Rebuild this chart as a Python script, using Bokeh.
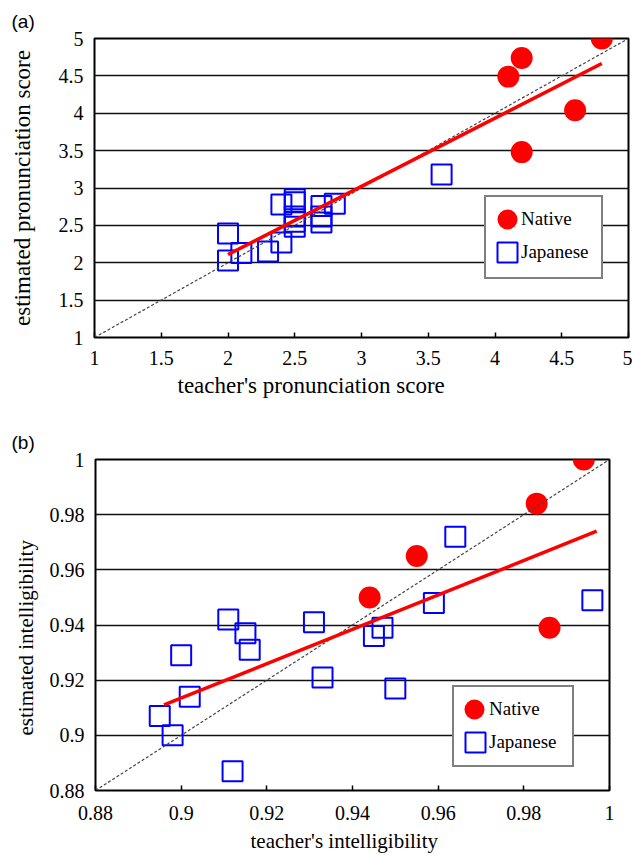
from bokeh.plotting import figure
from bokeh.models import (FixedTicker, Legend, LegendItem, Title,
                          CustomJSTickFormatter, Range1d)
from bokeh.embed import file_html
from bokeh.resources import INLINE

# ---------------- data: panel (a) pronunciation score ----------------
a_native_x = [4.8, 4.2, 4.1, 4.6, 4.2]
a_native_y = [5.0, 4.74, 4.49, 4.04, 3.48]
a_jp_x = [2.0, 2.0, 2.1, 2.3, 2.4, 2.4, 2.5, 2.5, 2.5, 2.5, 2.5, 2.7, 2.7, 2.7, 2.8, 3.6]
a_jp_y = [2.39, 2.03, 2.13, 2.15, 2.27, 2.78, 2.85, 2.81, 2.62, 2.55, 2.48, 2.76, 2.62, 2.54, 2.79, 3.18]
a_fit_x = [2.0, 4.8]
a_fit_y = [2.11, 4.665]
a_diag = [1.0, 5.0]
a_ticks = [1, 1.5, 2, 2.5, 3, 3.5, 4, 4.5, 5]
a_tick_labels = ["1", "1.5", "2", "2.5", "3", "3.5", "4", "4.5", "5"]

# ---------------- data: panel (b) intelligibility ----------------
b_native_x = [0.994, 0.983, 0.955, 0.944, 0.986]
b_native_y = [1.000, 0.984, 0.965, 0.950, 0.939]
b_jp_x = [0.964, 0.959, 0.996, 0.931, 0.911, 0.915, 0.916, 0.900, 0.933, 0.947, 0.945, 0.950, 0.902, 0.895, 0.898, 0.912]
b_jp_y = [0.972, 0.948, 0.949, 0.941, 0.942, 0.937, 0.931, 0.929, 0.921, 0.939, 0.936, 0.917, 0.914, 0.907, 0.900, 0.887]
b_fit_x = [0.896, 0.997]
b_fit_y = [0.911, 0.974]
b_diag = [0.88, 1.0]
b_ticks = [0.88, 0.9, 0.92, 0.94, 0.96, 0.98, 1.0]
b_tick_labels = ["0.88", "0.9", "0.92", "0.94", "0.96", "0.98", "1"]

SERIF = "Liberation Serif, Times New Roman, Times, serif"
SANS = "Liberation Sans, Arial, Helvetica, sans-serif"


def make_panel(cfg, ticks, labels, native, jp, fit, diag, tag, ytitle, xtitle):
    bl, br, bt, bb = cfg["borders"]
    p = figure(width=cfg["width"], height=cfg["height"], output_backend="svg",
               toolbar_location=None,
               x_range=Range1d(ticks[0], ticks[-1]), y_range=Range1d(ticks[0], ticks[-1]),
               min_border_left=bl, min_border_right=br, min_border_top=bt, min_border_bottom=bb)
    p.background_fill_color = "white"
    p.border_fill_color = "white"
    p.outline_line_color = "black"
    p.outline_line_width = 2

    fmt = CustomJSTickFormatter(args=dict(vals=ticks, labels=labels), code="""
        for (let i = 0; i < vals.length; i++) {
            if (Math.abs(vals[i] - tick) < 1e-9) { return labels[i]; }
        }
        return "";
    """)
    for ax in (p.xaxis[0], p.yaxis[0]):
        ax.ticker = FixedTicker(ticks=ticks)
        ax.formatter = fmt
        ax.axis_line_color = None
        ax.minor_tick_line_color = None
        ax.major_label_text_font = SERIF
        ax.major_label_text_font_size = "20px"
        ax.major_label_text_font_style = "normal"
        ax.major_label_text_color = "black"
    p.xaxis.major_tick_in = 5
    p.xaxis.major_tick_out = 0
    p.xaxis.major_tick_line_color = "black"
    p.xaxis.major_tick_line_width = 1.5
    p.xaxis.major_label_standoff = cfg["xtick_standoff"]
    p.yaxis.major_tick_in = 0
    p.yaxis.major_tick_out = 0
    p.yaxis.major_tick_line_color = None
    p.yaxis.major_label_standoff = 11

    if cfg["ytitle_mode"] == "axis":
        p.yaxis.axis_label = ytitle
        p.yaxis.axis_label_text_font = SERIF
        p.yaxis.axis_label_text_font_size = cfg["title_size"]
        p.yaxis.axis_label_text_font_style = "normal"
        p.yaxis.axis_label_text_color = "black"
        p.yaxis.axis_label_standoff = cfg["ytitle_standoff"]
    else:
        p.add_layout(Title(text=ytitle, align="left", offset=cfg["ytitle_offset"],
                           standoff=cfg["ytitle_standoff"],
                           text_font=SERIF, text_font_size=cfg["title_size"],
                           text_font_style="normal", text_color="black"), "left")

    p.xgrid.visible = False
    p.ygrid.grid_line_color = "#111111"
    p.ygrid.grid_line_width = 1.4

    rj = p.scatter(jp[0], jp[1], marker="square", size=20, fill_color=None,
                   line_color="#0000FF", line_width=2)
    rn = p.scatter(native[0], native[1], marker="circle", size=22, fill_color="#FF0000",
                   line_color=None)
    p.line(diag, diag, line_color="#444444", line_width=1.2, line_dash="3 2")
    p.line(fit[0], fit[1], line_color="#FF0000", line_width=3.5)

    # legend: a bordered box, then the two symbols, then the two labels
    blank = p.scatter([], [], fill_color=None, line_color=None)
    bw, bh = cfg["legend_box_size"]
    p.add_layout(Legend(items=[LegendItem(label=" ", renderers=[blank])],
                        location=cfg["legend_box_loc"], padding=0, spacing=0,
                        glyph_width=bw - 20, glyph_height=bh, label_width=20, label_height=20,
                        label_standoff=0, margin=0,
                        border_line_color="black", border_line_width=2,
                        background_fill_color="white", background_fill_alpha=1.0))
    for name, rend, gloc, tloc in (("Native", rn, cfg["native_loc"], cfg["native_text_loc"]),
                                   ("Japanese", rj, cfg["jp_loc"], cfg["jp_text_loc"])):
        p.add_layout(Legend(items=[LegendItem(label=" ", renderers=[rend])],
                            location=gloc, padding=0, spacing=0,
                            glyph_width=50, glyph_height=50, label_standoff=0, margin=0,
                            label_text_font_size="10px",
                            border_line_color=None, background_fill_alpha=0.0))
        p.add_layout(Legend(items=[LegendItem(label=name, renderers=[blank])],
                            location=tloc, padding=0, spacing=0,
                            glyph_width=1, glyph_height=30, label_height=20,
                            label_standoff=0, margin=0,
                            label_text_font=SERIF, label_text_font_size="19px",
                            label_text_font_style="normal", label_text_color="black",
                            border_line_color=None, background_fill_alpha=0.0))

    p.add_layout(Title(text=tag, align="left", offset=cfg["tag_offset"], standoff=14,
                       text_font=SANS, text_font_size="19px", text_font_style="normal",
                       text_color="black"), "above")
    p.add_layout(Title(text=xtitle, align="left", offset=cfg["xtitle_offset"],
                       standoff=cfg["xtitle_standoff"],
                       text_font=SERIF, text_font_size=cfg["title_size"],
                       text_font_style="normal", text_color="black"), "below")
    return p


cfg_a = dict(width=632, height=416, borders=(94, 4, 38, 79), xtick_standoff=13,
             title_size="23px", ytitle_mode="axis", ytitle_standoff=21, ytitle_offset=0,
             tag_offset=-83, xtitle_offset=83, xtitle_standoff=6,
             legend_box_loc=(390, 58), legend_box_size=(115, 80),
             native_loc=(388, 93), jp_loc=(388, 60),
             native_text_loc=(426, 103), jp_text_loc=(426, 70))
cfg_b = dict(width=632, height=440, borders=(95, 23, 43, 66), xtick_standoff=15,
             title_size="21px", ytitle_mode="title", ytitle_standoff=18, ytitle_offset=55,
             tag_offset=-84, xtitle_offset=155, xtitle_standoff=8,
             legend_box_loc=(357, 23), legend_box_size=(118, 78),
             native_loc=(354, 56), jp_loc=(355, 23),
             native_text_loc=(393, 66), jp_text_loc=(393, 33))

pa = make_panel(cfg_a, a_ticks, a_tick_labels,
                (a_native_x, a_native_y), (a_jp_x, a_jp_y), (a_fit_x, a_fit_y), a_diag,
                "(a)", "estimated pronunciation score", "teacher's pronunciation score")
pb = make_panel(cfg_b, b_ticks, b_tick_labels,
                (b_native_x, b_native_y), (b_jp_x, b_jp_y), (b_fit_x, b_fit_y), b_diag,
                "(b)", "estimated intelligibility", "teacher's intelligibility")

open("out.html", "w").write(file_html([pa, pb], INLINE))
